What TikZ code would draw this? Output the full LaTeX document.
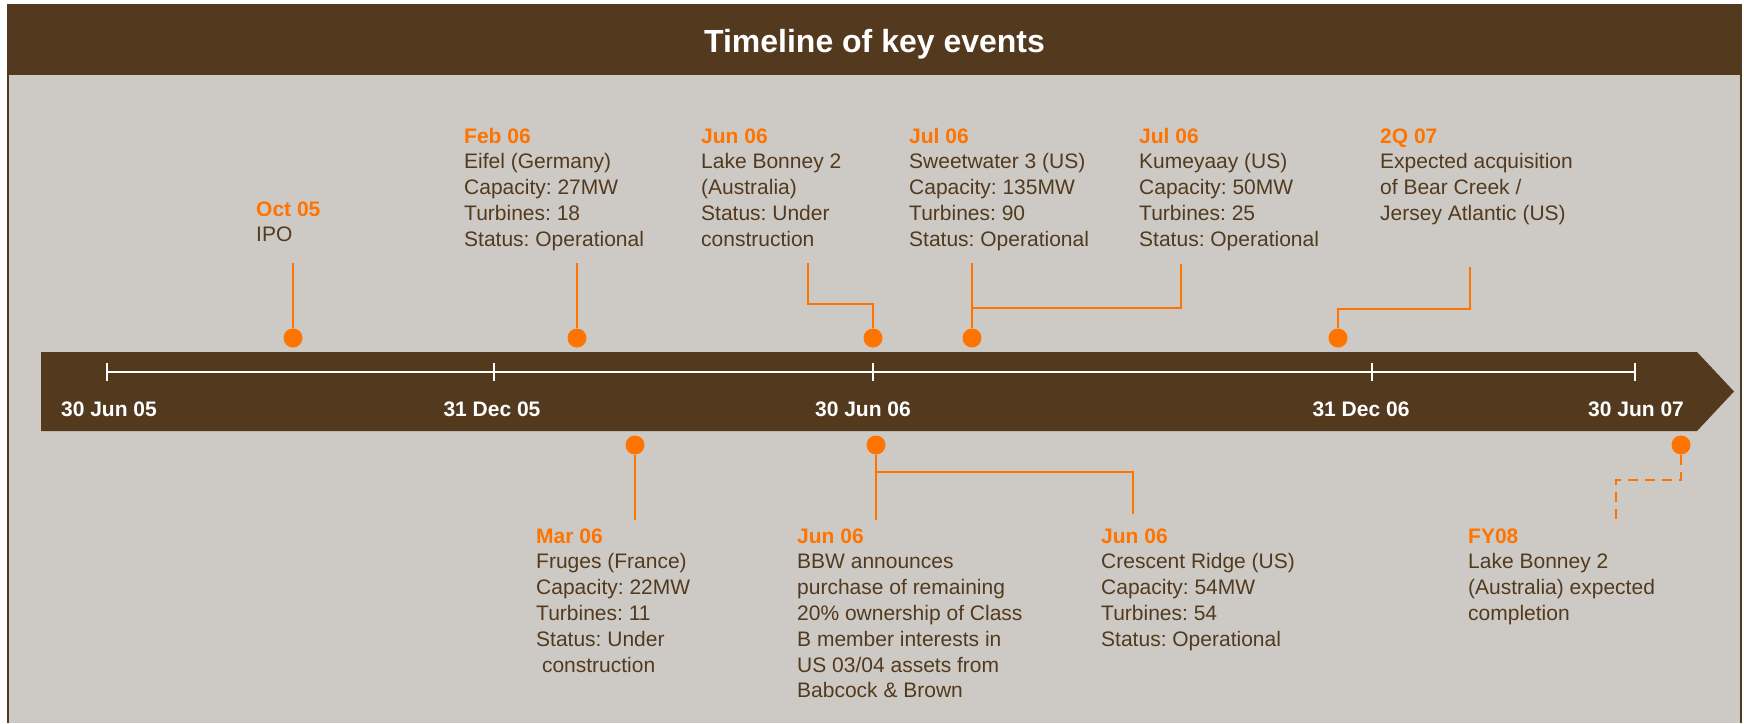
\documentclass[tikz,border=0pt]{standalone}
\usepackage{fontspec}
\setmainfont{Liberation Sans}
\frenchspacing
\usetikzlibrary{positioning,calc}
\definecolor{bbwbrown}{HTML}{533A1E}
\definecolor{bbwgrey}{HTML}{CDCAC5}
\definecolor{bbworange}{HTML}{FF7300}
\tikzset{
dot/.style   = {draw=none, fill=bbworange, circle, minimum size=19pt, inner sep=0pt},
event/.style = {anchor=base west, align=left, inner sep=0pt, text=bbwbrown, font=\fontsize{21}{25.8}\selectfont},
datelabel/.style = {anchor=base, inner sep=0pt, text=white, font=\bfseries\fontsize{21}{25}\selectfont},
tmp/.style   = {coordinate},
axis/.style  = {draw=white, line width=2pt},
link/.style  = {draw=bbworange, line width=2pt}
}
\newcommand{\when}[1]{\textcolor{bbworange}{\bfseries #1}}

\begin{document}
\begin{tikzpicture}[x=1pt, y=-1pt]
  \useasboundingbox (0,0) rectangle (1744,723);
  \fill [bbwgrey] (8,5) rectangle (1741,723);
  \draw [bbwbrown, line width=2pt] (8,723) -- (8,5) -- (1741,5) -- (1741,723);
  \fill [bbwbrown] (8,5) rectangle (1741,75);
  \node [anchor=base, text=white, font=\bfseries\fontsize{32}{38}\selectfont] (title) at (874.5,52) {Timeline of key events};

  \fill [bbwbrown] (41,352) -- (1697,352) -- (1734,391.5) -- (1697,431) -- (41,431) -- cycle;
  \foreach \x/\lx/\name/\lab in {107/109/jun05/30 Jun 05, 494/492/dec05/31 Dec 05, 873/863/jun06/30 Jun 06, 1372/1361/dec06/31 Dec 06, 1635/1636/jun07/30 Jun 07} {
    \coordinate (\name) at (\x,372);
    \draw [axis] ($(\name)+(0,-9)$) -- ($(\name)+(0,9)$);
    \node [datelabel] (lab-\name) at (\lx,416) {\lab};
  }
  \draw [axis] (jun05) -- (jun07);

  \node [event] (octtxt)  at (256,241.8)  {\when{Oct 05}\\IPO};
  \node [event] (febtxt)  at (464,246.2)  {\when{Feb 06}\\Eifel (Germany)\\Capacity: 27MW\\Turbines: 18\\Status: Operational};
  \node [event] (lbtxt)   at (701,246.2)  {\when{Jun 06}\\Lake Bonney 2\\(Australia)\\Status: Under\\construction};
  \node [event] (swtxt)   at (909,246.2)  {\when{Jul 06}\\Sweetwater 3 (US)\\Capacity: 135MW\\Turbines: 90\\Status: Operational};
  \node [event] (kmtxt)   at (1139,246.2) {\when{Jul 06}\\Kumeyaay (US)\\Capacity: 50MW\\Turbines: 25\\Status: Operational};
  \node [event] (bctxt)   at (1380,220.4) {\when{2Q 07}\\Expected acquisition\\of Bear Creek /\\Jersey Atlantic (US)};
  \node [event] (martxt)  at (536,672)    {\when{Mar 06}\\Fruges (France)\\Capacity: 22MW\\Turbines: 11\\Status: Under\\~construction};
  \node [event] (bbwtxt)  at (797,697.8)  {\when{Jun 06}\\BBW announces\\purchase of remaining\\20\% ownership of Class\\B member interests in\\US 03/04 assets from\\Babcock \& Brown};
  \node [event] (crtxt)   at (1101,646.2) {\when{Jun 06}\\Crescent Ridge (US)\\Capacity: 54MW\\Turbines: 54\\Status: Operational};
  \node [event] (fytxt)   at (1468,620.4) {\when{FY08}\\Lake Bonney 2\\(Australia) expected\\completion};

  \node [dot] (oct) at (293,338)  {};
  \node [dot] (feb) at (577,338)  {};
  \node [dot] (lb)  at (873,338)  {};
  \node [dot] (sw)  at (972,338)  {};
  \node [dot] (bc)  at (1338,338) {};
  \node [dot] (mar) at (635,445)  {};
  \node [dot] (bbw) at (876,445)  {};
  \node [dot] (fy)  at (1681,445) {};

  \node [tmp] (octtop) at (293,263)  {};
  \node [tmp] (febtop) at (577,263)  {};
  \node [tmp] (lbtop)  at (808,263)  {};
  \node [tmp] (lbbend) at (873,304)  {};
  \node [tmp] (swtop)  at (972,263)  {};
  \node [tmp] (kmtop)  at (1181,264) {};
  \node [tmp] (kmjoin) at (972,308)  {};
  \node [tmp] (bctop)  at (1470,267) {};
  \node [tmp] (bcbend) at (1338,309) {};
  \node [tmp] (marbot) at (635,520)  {};
  \node [tmp] (bbwbot) at (876,520)  {};
  \node [tmp] (crbot)  at (1133,514) {};
  \node [tmp] (crjoin) at (876,472)  {};
  \node [tmp] (fybend) at (1616,480) {};
  \node [tmp] (fybot)  at (1616,519) {};

  \draw [link] (octtop) -- (oct);
  \draw [link] (febtop) -- (feb);
  \draw [link] (lbtop) |- (lbbend) -- (lb);
  \draw [link] (swtop) -- (sw);
  \draw [link] (kmtop) |- (kmjoin);
  \draw [link] (bctop) |- (bcbend) -- (bc);
  \draw [link] (mar) -- (marbot);
  \draw [link] (bbw) -- (bbwbot);
  \draw [link] (crbot) |- (crjoin);
  \draw [link, dash pattern=on 10pt off 7pt] (fy) |- (fybend) -- (fybot);
\end{tikzpicture}
\end{document}
